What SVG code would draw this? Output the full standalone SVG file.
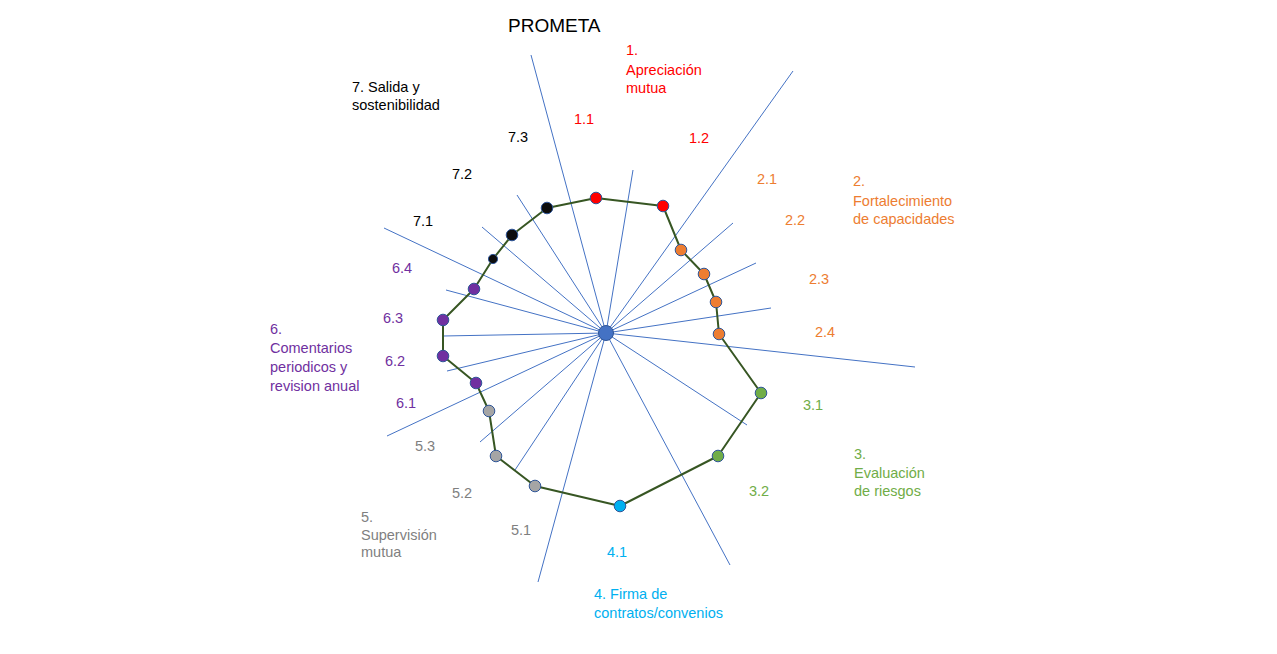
<svg xmlns="http://www.w3.org/2000/svg" width="1277" height="654" viewBox="0 0 1277 654">
<style>
text{font-family:"Liberation Sans",Arial,sans-serif;font-size:14.5px}
.title{font-size:19px;fill:#000}
.ray{stroke:#4472C4;stroke-width:1;fill:none}
.path{stroke:#375623;stroke-width:2;fill:none;stroke-linejoin:round}
.pt{stroke:#2F5597;stroke-width:1}
.c1{fill:#FF0000}.c2{fill:#ED7D31}.c3{fill:#70AD47}.c4{fill:#00B0F0}.c5{fill:#7F7F7F}.c6{fill:#7030A0}.c7{fill:#000000}
.f1{fill:#FF0000}.f2{fill:#ED7D31}.f3{fill:#70AD47}.f4{fill:#00B0F0}.f5{fill:#A5A5A5}.f6{fill:#7030A0}.f7{fill:#0D0D0D}
</style>
<rect width="1277" height="654" fill="#FFFFFF"/>
<text id="title" class="title" x="508" y="32">PROMETA</text>
<g id="connectors">
<line class="ray" x1="606" y1="333" x2="531" y2="55"/>
<line class="ray" x1="606" y1="333" x2="633" y2="170"/>
<line class="ray" x1="606" y1="333" x2="793" y2="71"/>
<line class="ray" x1="606" y1="333" x2="733" y2="223"/>
<line class="ray" x1="606" y1="333" x2="756" y2="263"/>
<line class="ray" x1="606" y1="333" x2="771" y2="308"/>
<line class="ray" x1="606" y1="333" x2="915" y2="367"/>
<line class="ray" x1="606" y1="333" x2="747" y2="425"/>
<line class="ray" x1="606" y1="333" x2="730" y2="565"/>
<line class="ray" x1="606" y1="333" x2="538" y2="582"/>
<line class="ray" x1="606" y1="333" x2="515" y2="470"/>
<line class="ray" x1="606" y1="333" x2="480" y2="442"/>
<line class="ray" x1="606" y1="333" x2="387" y2="436"/>
<line class="ray" x1="606" y1="333" x2="447" y2="371"/>
<line class="ray" x1="606" y1="333" x2="443" y2="336"/>
<line class="ray" x1="606" y1="333" x2="446" y2="290"/>
<line class="ray" x1="606" y1="333" x2="384" y2="228"/>
<line class="ray" x1="606" y1="333" x2="482" y2="227"/>
<line class="ray" x1="606" y1="333" x2="517" y2="195"/>
<polygon class="path" points="596,198 663,206 681,250 704,274 716,302 719,334 761,393 718,456 620,506 535,486 496,456 489,411 476,383 443,356 443,320 474,289 493,259 512,235 547,208"/>
</g>
<g id="center"><circle cx="606" cy="333" r="7.5" fill="#4472C4" stroke="#2F5597" stroke-width="1"/></g>
<g id="cat1">
<text class="c1" x="626" y="55">1.</text>
<text class="c1" x="626" y="75">Apreciación</text>
<text class="c1" x="626" y="93">mutua</text>
</g>
<g id="p1-1"><circle class="pt f1" cx="596" cy="198" r="5.8"/><text class="c1" x="574" y="124">1.1</text></g>
<g id="p1-2"><circle class="pt f1" cx="663" cy="206" r="5.8"/><text class="c1" x="689" y="143">1.2</text></g>
<g id="cat2">
<text class="c2" x="853" y="186">2.</text>
<text class="c2" x="853" y="206">Fortalecimiento</text>
<text class="c2" x="853" y="224">de capacidades</text>
</g>
<g id="p2-1"><circle class="pt f2" cx="681" cy="250" r="5.8"/><text class="c2" x="757" y="184">2.1</text></g>
<g id="p2-2"><circle class="pt f2" cx="704" cy="274" r="5.8"/><text class="c2" x="785" y="225">2.2</text></g>
<g id="p2-3"><circle class="pt f2" cx="716" cy="302" r="5.8"/><text class="c2" x="809" y="284">2.3</text></g>
<g id="p2-4"><circle class="pt f2" cx="719" cy="334" r="5.8"/><text class="c2" x="815" y="337">2.4</text></g>
<g id="cat3">
<text class="c3" x="854" y="459">3.</text>
<text class="c3" x="854" y="478">Evaluación</text>
<text class="c3" x="854" y="496">de riesgos</text>
</g>
<g id="p3-1"><circle class="pt f3" cx="761" cy="393" r="5.8"/><text class="c3" x="803" y="410">3.1</text></g>
<g id="p3-2"><circle class="pt f3" cx="718" cy="456" r="5.8"/><text class="c3" x="749" y="496">3.2</text></g>
<g id="cat4">
<text class="c4" x="594" y="599">4. Firma de</text>
<text class="c4" x="594" y="618">contratos/convenios</text>
</g>
<g id="p4-1"><circle class="pt f4" cx="620" cy="506" r="5.8"/><text class="c4" x="607" y="557">4.1</text></g>
<g id="cat5">
<text class="c5" x="361" y="522">5.</text>
<text class="c5" x="361" y="540">Supervisión</text>
<text class="c5" x="361" y="557">mutua</text>
</g>
<g id="p5-1"><circle class="pt f5" cx="535" cy="486" r="5.8"/><text class="c5" x="511" y="535">5.1</text></g>
<g id="p5-2"><circle class="pt f5" cx="496" cy="456" r="5.8"/><text class="c5" x="452" y="498">5.2</text></g>
<g id="p5-3"><circle class="pt f5" cx="489" cy="411" r="5.8"/><text class="c5" x="415" y="451">5.3</text></g>
<g id="cat6">
<text class="c6" x="270" y="334">6.</text>
<text class="c6" x="270" y="353">Comentarios</text>
<text class="c6" x="270" y="372">periodicos y</text>
<text class="c6" x="270" y="391">revision anual</text>
</g>
<g id="p6-1"><circle class="pt f6" cx="476" cy="383" r="5.8"/><text class="c6" x="396" y="408">6.1</text></g>
<g id="p6-2"><circle class="pt f6" cx="443" cy="356" r="5.8"/><text class="c6" x="385" y="366">6.2</text></g>
<g id="p6-3"><circle class="pt f6" cx="443" cy="320" r="5.8"/><text class="c6" x="383" y="323">6.3</text></g>
<g id="p6-4"><circle class="pt f6" cx="474" cy="289" r="5.8"/><text class="c6" x="392" y="273">6.4</text></g>
<g id="cat7">
<text class="c7" x="352" y="92">7. Salida y</text>
<text class="c7" x="352" y="110">sostenibilidad</text>
</g>
<g id="p7-1"><circle class="pt f7" cx="493" cy="259" r="4.6"/><text class="c7" x="413" y="226">7.1</text></g>
<g id="p7-2"><circle class="pt f7" cx="512" cy="235" r="5.8"/><text class="c7" x="452" y="179">7.2</text></g>
<g id="p7-3"><circle class="pt f7" cx="547" cy="208" r="5.8"/><text class="c7" x="508" y="142">7.3</text></g>
</svg>
